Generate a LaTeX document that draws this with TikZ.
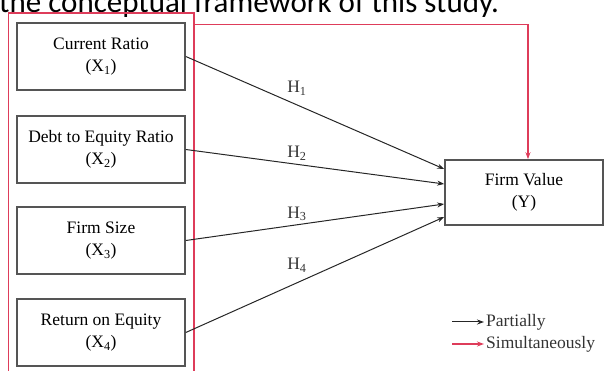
\documentclass[tikz,border=0pt]{standalone}
\usepackage{fontspec}
\setmainfont{Liberation Serif}
\newfontfamily\bodyfont{Carlito}
\usepackage{xcolor}
\usetikzlibrary{arrows.meta}
\definecolor{simred}{RGB}{222,60,90}
\definecolor{boxgray}{RGB}{85,85,85}

\begin{document}
\begin{tikzpicture}[x=1pt,y=-1pt]
    % Define shapes
    \tikzstyle{var}=[draw=boxgray, line width=1.6pt, rectangle, minimum width=168pt, minimum height=67pt, align=center, font=\fontsize{17.5}{22}\selectfont]
    \tikzstyle{group}=[draw=simred, line width=1.3pt, rectangle, minimum width=185.5pt, minimum height=380pt]
    \tikzstyle{partial}=[draw=black!85, line width=1pt, -{Stealth[length=7pt,width=5pt]}]
    \tikzstyle{simul}=[draw=simred, line width=1.3pt, -{Stealth[length=7pt,width=5pt]}]
    \tikzstyle{hyp}=[font=\fontsize{17.5}{20}\selectfont, text=black!80]
    \useasboundingbox (0,0) rectangle (606,371);

    % Body text above the figure
    \node[anchor=base west, inner sep=0pt, font=\bodyfont\fontsize{31}{36}\selectfont] (caption) at (-1,12.5) {the conceptual framework of this study.};

    % Place group of independent variables
    \node[group] (grp) at (101.25,203) {};

    % Place variables
    \node[var] (x1) at (101,56.5) {Current Ratio\\(X\textsubscript{1})};
    \node[var] (x2) at (101,149.5) {Debt to Equity Ratio\\(X\textsubscript{2})};
    \node[var] (x3) at (101,240.5) {Firm Size\\(X\textsubscript{3})};
    \node[var] (x4) at (101,332.5) {Return on Equity\\(X\textsubscript{4})};
    \node[var, minimum width=158pt, minimum height=65pt] (y) at (524,192.5) {Firm Value\\(Y)};

    % Connect variables partially
    \draw[partial] (x1.east) -- node[hyp, above=6pt, pos=0.43] {H\textsubscript{1}} ([yshift=23.5pt]y.west);
    \draw[partial] (x2.east) -- node[hyp, above, pos=0.43] {H\textsubscript{2}} ([yshift=8.5pt]y.west);
    \draw[partial] (x3.east) -- node[hyp, above, pos=0.43] {H\textsubscript{3}} ([yshift=-11.5pt]y.west);
    \draw[partial] (x4.east) -- node[hyp, above=7pt, pos=0.43] {H\textsubscript{4}} ([yshift=-24.5pt]y.west);

    % Connect group simultaneously
    \draw[simul] ([yshift=-12pt]grp.north east) -| ([xshift=4pt]y.north);

    % Legend
    \coordinate (lp1) at (452,322);
    \coordinate (lp2) at (484,322);
    \coordinate (ls1) at (452,344);
    \coordinate (ls2) at (484,344);
    \draw[partial] (lp1) -- (lp2);
    \draw[simul] (ls1) -- (ls2);
    \node[hyp, right, inner sep=2pt] (lpt) at (lp2) {Partially};
    \node[hyp, right, inner sep=2pt] (lst) at (ls2) {Simultaneously};
\end{tikzpicture}
\end{document}
